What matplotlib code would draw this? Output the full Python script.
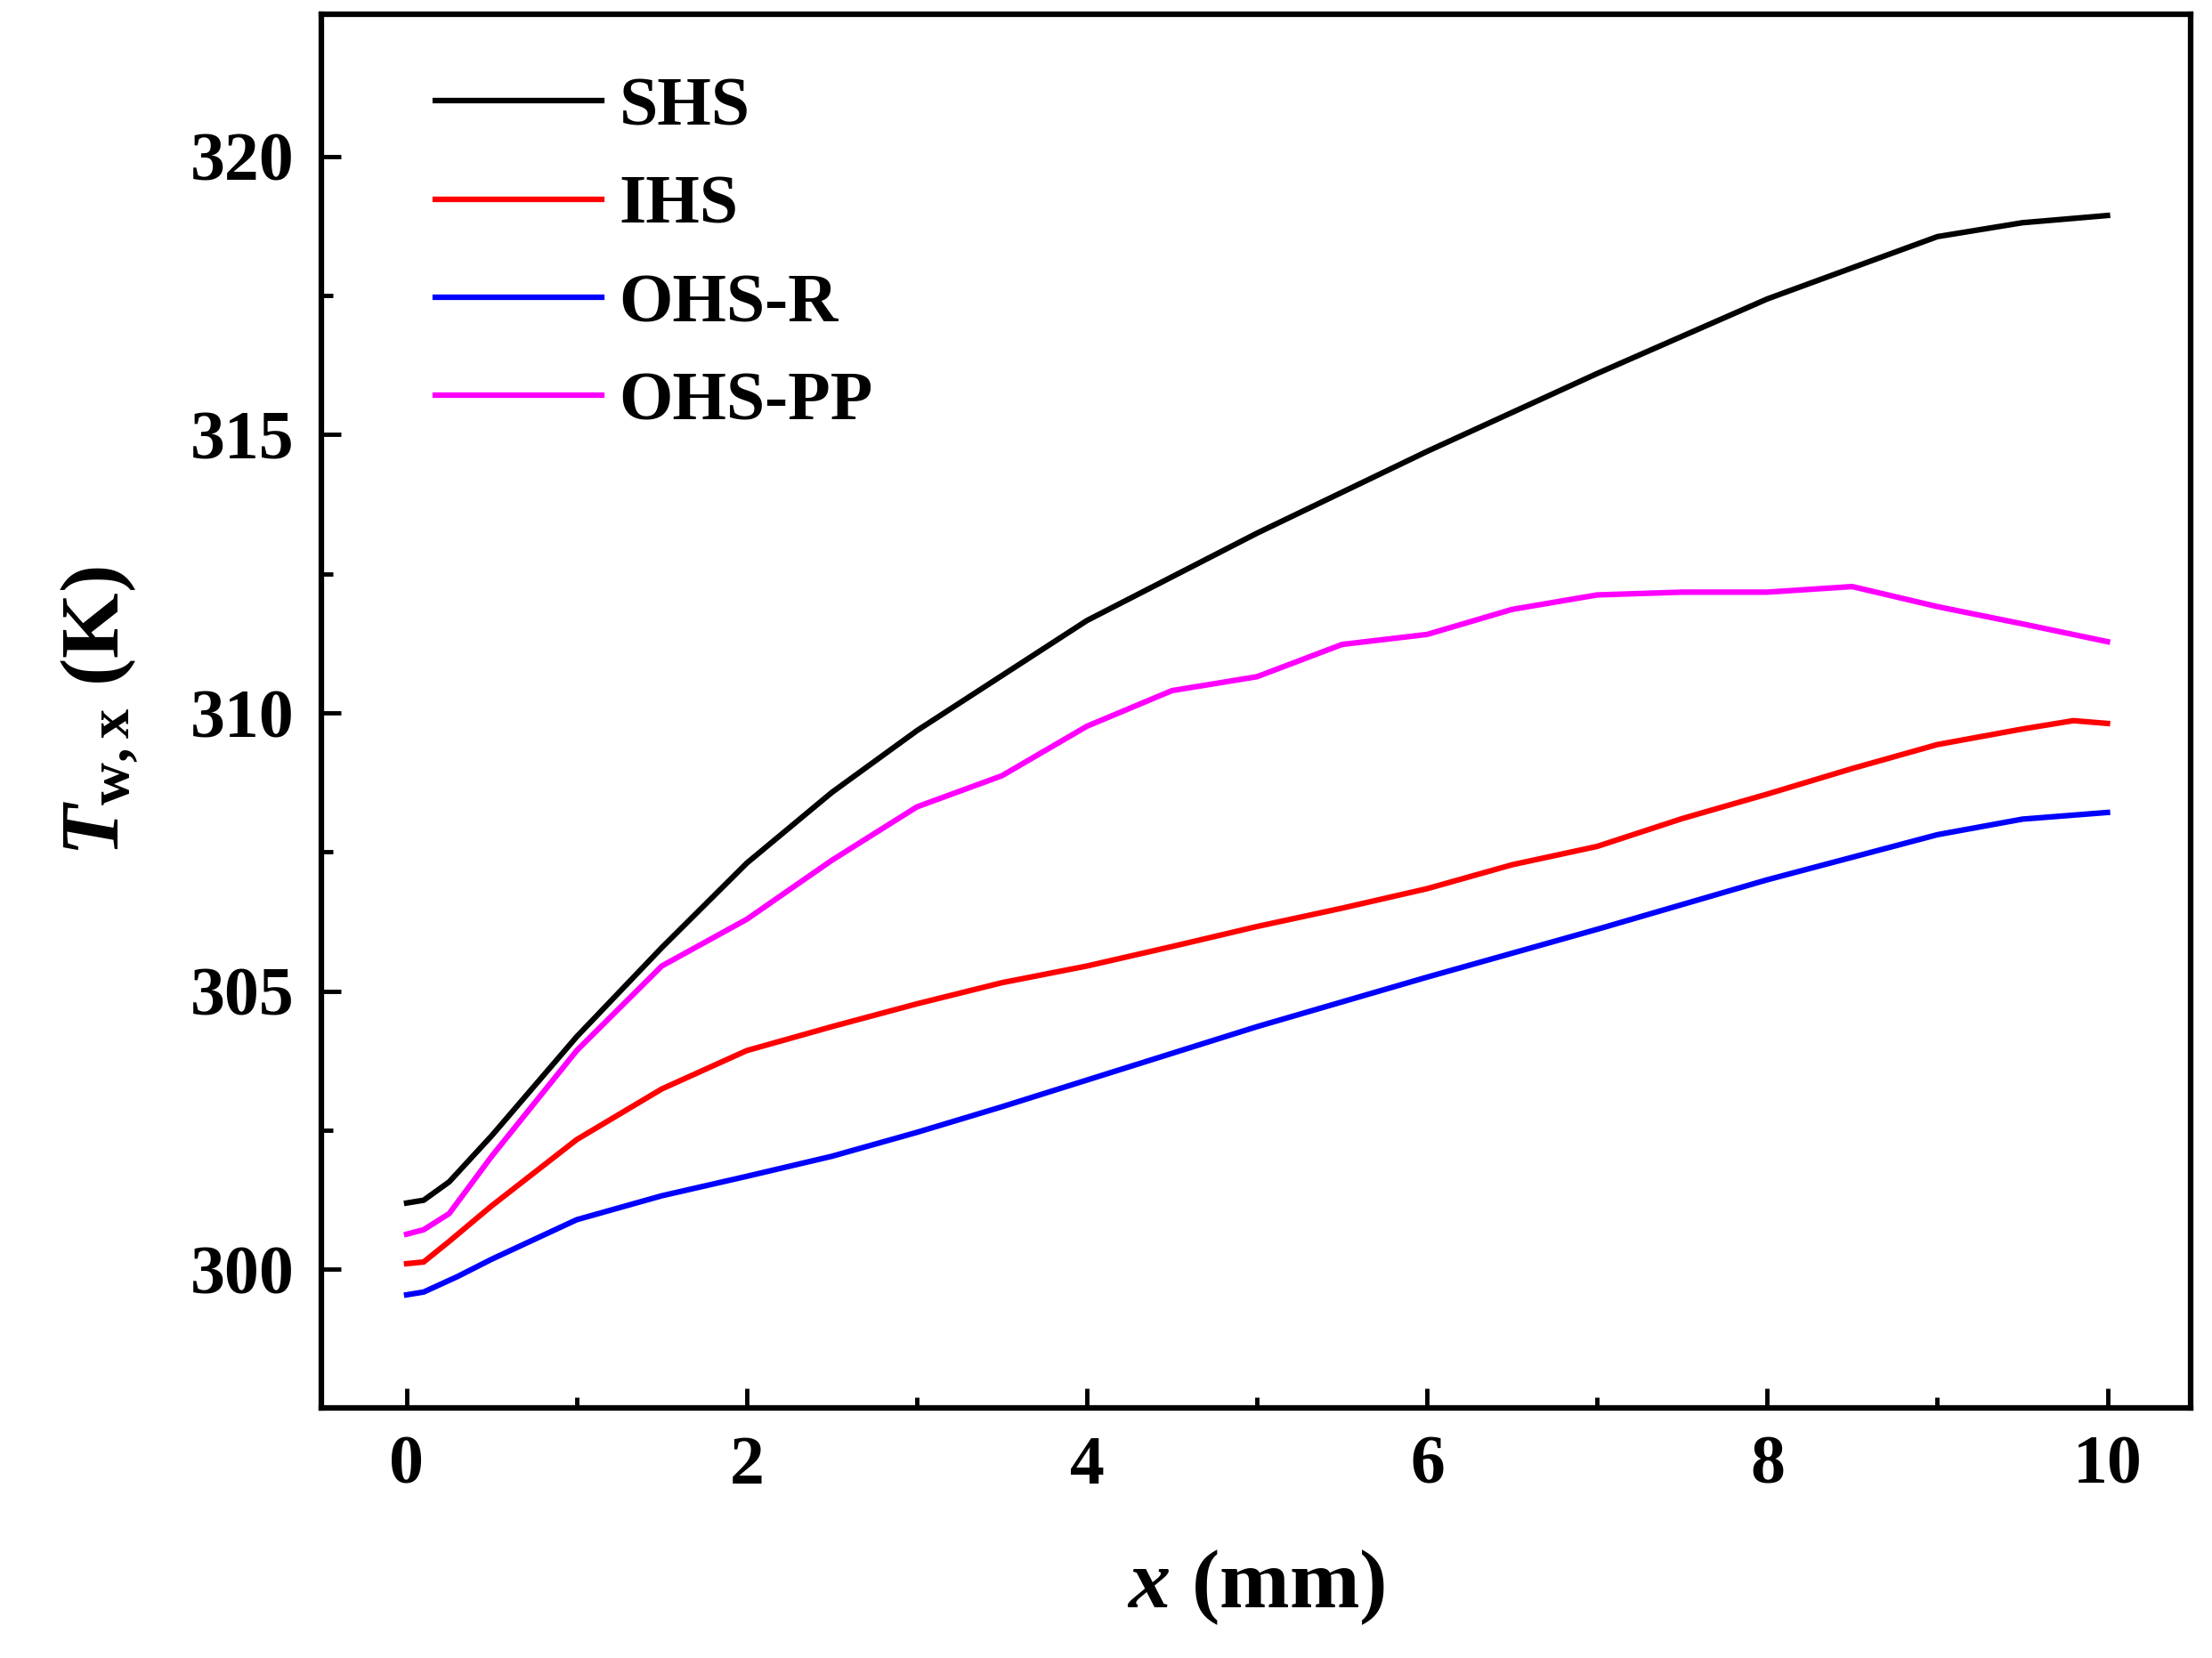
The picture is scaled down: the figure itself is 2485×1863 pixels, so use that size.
import matplotlib.pyplot as plt
import numpy as np

x_shs = [0, 0.1, 0.25, 0.5, 1, 1.5, 2, 2.5, 3, 4, 5, 6, 7, 8, 9, 9.5, 10]
shs = [301.19, 301.24, 301.57, 302.4, 304.18, 305.78, 307.3, 308.57, 309.68,
       311.66, 313.23, 314.7, 316.1, 317.44, 318.56, 318.81, 318.94]

x_ihs = [0, 0.1, 0.25, 0.5, 1, 1.5, 2, 2.5, 3, 3.5, 4, 4.5, 5, 5.5, 6, 6.5, 7,
         7.5, 8, 8.5, 9, 9.5, 9.8, 10]
ihs = [300.1, 300.13, 300.5, 301.14, 302.33, 303.24, 303.93, 304.36, 304.77,
       305.15, 305.45, 305.8, 306.16, 306.49, 306.84, 307.27, 307.6, 308.1,
       308.54, 309.0, 309.43, 309.71, 309.86, 309.81]

x_ohsr = [0, 0.1, 0.3, 0.5, 1, 1.5, 2, 2.5, 3, 3.5, 4, 4.5, 5, 6, 7, 8, 9, 9.5, 10]
ohsr = [299.54, 299.59, 299.87, 300.18, 300.89, 301.32, 301.67, 302.03, 302.46,
        302.92, 303.4, 303.88, 304.36, 305.25, 306.11, 307.0, 307.81, 308.09, 308.21]

x_pp = [0, 0.1, 0.25, 0.5, 1, 1.5, 2, 2.5, 3, 3.5, 4, 4.5, 5, 5.5, 6, 6.5, 7,
        7.5, 8, 8.5, 9, 9.5, 10]
ohspp = [300.63, 300.71, 301.0, 302.03, 303.93, 305.45, 306.29, 307.35, 308.31,
         308.87, 309.76, 310.4, 310.65, 311.23, 311.41, 311.86, 312.12, 312.17,
         312.17, 312.27, 311.91, 311.6, 311.28]

plt.rcParams['font.family'] = 'Liberation Serif'
plt.rcParams['font.weight'] = 'bold'
plt.rcParams['mathtext.fontset'] = 'custom'
plt.rcParams['mathtext.rm'] = 'Liberation Serif:bold'
plt.rcParams['mathtext.it'] = 'Liberation Serif:bold:italic'

fig = plt.figure(figsize=(24.85, 18.63), dpi=100)
ax = fig.add_axes([0.1454, 0.1506, 0.845, 0.8409])

lw = 4.5
ax.plot(x_shs, shs, color='black', lw=lw, label='SHS')
ax.plot(x_ihs, ihs, color='red', lw=lw, label='IHS')
ax.plot(x_ohsr, ohsr, color='blue', lw=lw, label='OHS-R')
ax.plot(x_pp, ohspp, color='magenta', lw=lw, label='OHS-PP')

ax.set_xlim(-0.5, 10.49)
ax.set_ylim(297.5, 322.56)
ax.set_xticks(range(0, 11, 2))
ax.set_xticks(range(1, 10, 2), minor=True)
ax.set_yticks(range(300, 321, 5))
ax.set_yticks([297.5, 302.5, 307.5, 312.5, 317.5], minor=True)
ax.tick_params(which='both', direction='in', width=3.5, labelsize=56, pad=22)
ax.tick_params(which='major', length=16)
ax.tick_params(which='minor', length=9)
for s in ax.spines.values():
    s.set_linewidth(4.5)

ax.set_xlabel(r'$x$ (mm)', fontsize=68, fontweight='bold', labelpad=40)
ax.set_ylabel(r'$T_{\rm w,x}$ (K)', fontsize=68, fontweight='bold', labelpad=40)

ax.legend(loc='upper left', frameon=False, fontsize=56, handlelength=2.4,
          handletextpad=0.25, labelspacing=0.5, borderaxespad=0.3,
          bbox_to_anchor=(0.035, 0.99))

fig.savefig('out.png', dpi=100)
